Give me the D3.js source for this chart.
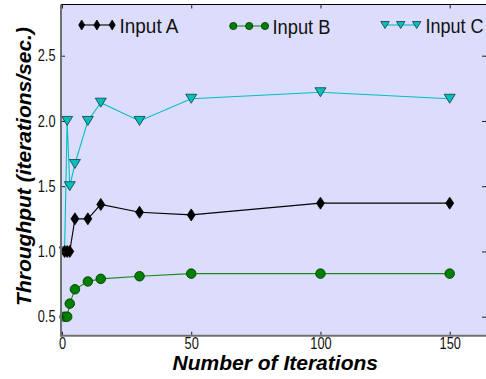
<!DOCTYPE html>
<html>
<head>
<meta charset="utf-8">
<script src="https://cdn.jsdelivr.net/npm/d3@7"></script>
<style>
  body { margin: 0; background: #fff; }
  svg { display: block; font-family: "Liberation Sans", Arial, sans-serif; }
</style>
</head>
<body>
<div id="chart"></div>
<script>
// Data
const iterations = [1, 2, 3, 5, 10, 15, 30, 50, 100, 150];
const inputA = [1.0, 1.0, 1.0, 1.25, 1.25, 1.36, 1.30, 1.28, 1.37, 1.37];
const inputB = [0.5, 0.5, 0.6, 0.71, 0.77, 0.79, 0.81, 0.83, 0.83, 0.83];
const inputC = [1.0, 2.0, 1.5, 1.67, 2.0, 2.14, 2.0, 2.17, 2.22, 2.17];
const seriesNames = ["Input A", "Input B", "Input C"];
const xTicks = [0, 50, 100, 150];
const yTicks = [0.5, 1.0, 1.5, 2.0, 2.5];

const width = 486, height = 379;
const plot = { left: 61, right: 488, top: 4.5, bottom: 335.7 };

const svg = d3.select("#chart").append("svg")
    .attr("width", width)
    .attr("height", height);

// Scales
const x = d3.scaleLinear().domain([0, 150]).range([62, 449.7]);
const y = d3.scaleLinear().domain([0.5, 2.5]).range([316.7, 55.7]);

// Background of the plot area
svg.append("rect")
    .attr("x", plot.left)
    .attr("y", plot.top)
    .attr("width", plot.right - plot.left)
    .attr("height", plot.bottom - plot.top)
    .attr("fill", "#dcdcfc");

// Marker shapes
function diamond(w, h) {
    return `M0,${-h / 2}L${w / 2},0L0,${h / 2}L${-w / 2},0Z`;
}
function triangleDown(w, h) {
    return `M${-w / 2},${-h / 2}L${w / 2},${-h / 2}L0,${h / 2}Z`;
}
function circle(r) {
    return d3.symbol(d3.symbolCircle, Math.PI * r * r)();
}

const series = [
    { name: seriesNames[0], values: inputA, line: "#000000", fill: "#000000", stroke: "#000000",
      shape: diamond(8, 12), legendShape: diamond(6, 10) },
    { name: seriesNames[1], values: inputB, line: "#1a8a1a", fill: "#008000", stroke: "#003300",
      shape: circle(4.8), legendShape: circle(3.6) },
    { name: seriesNames[2], values: inputC, line: "#00c0c0", fill: "#00bfbf", stroke: "#1a3a3a",
      shape: triangleDown(11, 9), legendShape: triangleDown(8.5, 7) }
];

const line = d3.line()
    .x((d, i) => x(iterations[i]))
    .y(d => y(d));

// Draw series, cyan first so black and green sit on top like the picture
const drawOrder = [2, 0, 1];
drawOrder.forEach(k => {
    const s = series[k];
    const g = svg.append("g");
    g.append("path")
        .attr("d", line(s.values))
        .attr("fill", "none")
        .attr("stroke", s.line)
        .attr("stroke-width", 1.1);
    g.selectAll("path.mark")
        .data(s.values)
        .enter()
        .append("path")
        .attr("class", "mark")
        .attr("d", s.shape)
        .attr("transform", (d, i) => `translate(${x(iterations[i])},${y(d)})`)
        .attr("fill", s.fill)
        .attr("stroke", s.stroke)
        .attr("stroke-width", 0.8);
});

// Axes: inward ticks, condensed labels
const bottomAxis = svg.append("g")
    .attr("transform", `translate(0,${plot.bottom})`)
    .call(d3.axisBottom(x).tickValues(xTicks).tickFormat(d3.format("d"))
        .tickSize(-4).tickSizeOuter(0).tickPadding(2));

const leftAxis = svg.append("g")
    .attr("transform", `translate(${plot.left},0)`)
    .call(d3.axisLeft(y).tickValues(yTicks).tickFormat(d3.format(".1f"))
        .tickSize(-4).tickSizeOuter(0).tickPadding(6));

[bottomAxis, leftAxis].forEach(a => {
    a.select(".domain").remove();
    a.selectAll(".tick line").attr("stroke", "#222");
    a.selectAll(".tick text")
        .attr("font-family", "'Liberation Sans', Arial, sans-serif")
        .attr("font-size", 16)
        .attr("fill", "#111");
});
bottomAxis.selectAll(".tick text").attr("transform", "scale(0.8,1)");
leftAxis.selectAll(".tick text")
    .attr("transform", "scale(0.8,1)")
    .attr("x", -5.5 / 0.8);

// Mirrored ticks on top and right
svg.append("g")
    .attr("transform", `translate(0,${plot.top})`)
    .call(d3.axisTop(x).tickValues(xTicks).tickFormat("").tickSize(-4).tickSizeOuter(0))
    .call(g => g.select(".domain").remove())
    .selectAll(".tick line").attr("stroke", "#222");

svg.append("g")
    .attr("transform", `translate(${width},0)`)
    .call(d3.axisRight(y).tickValues(yTicks).tickFormat("").tickSize(-4).tickSizeOuter(0))
    .call(g => g.select(".domain").remove())
    .selectAll(".tick line").attr("stroke", "#222");

// Spines
svg.append("line")
    .attr("x1", plot.left).attr("x2", plot.right)
    .attr("y1", plot.top).attr("y2", plot.top)
    .attr("stroke", "#000").attr("stroke-width", 1.2);
svg.append("line")
    .attr("x1", plot.left).attr("x2", plot.left)
    .attr("y1", plot.top).attr("y2", plot.bottom + 1)
    .attr("stroke", "#707070").attr("stroke-width", 2);
svg.append("line")
    .attr("x1", plot.left).attr("x2", plot.right)
    .attr("y1", plot.bottom).attr("y2", plot.bottom)
    .attr("stroke", "#707070").attr("stroke-width", 2);

// Legend
const legendItems = [
    { s: series[0], xs: [81.7, 96.9, 112.2], ty: 25, tx: 119.5 },
    { s: series[1], xs: [233.3, 249.2, 265], ty: 26, tx: 272.5 },
    { s: series[2], xs: [385, 400.7, 416.7], ty: 25, tx: 425.5 }
];
legendItems.forEach(it => {
    const g = svg.append("g").attr("class", "legend");
    g.append("line")
        .attr("x1", it.xs[0]).attr("x2", it.xs[2])
        .attr("y1", it.ty).attr("y2", it.ty)
        .attr("stroke", it.s.line)
        .attr("stroke-width", 1.1);
    g.selectAll("path")
        .data(it.xs)
        .enter()
        .append("path")
        .attr("d", it.s.legendShape)
        .attr("transform", d => `translate(${d},${it.ty})`)
        .attr("fill", it.s.fill)
        .attr("stroke", it.s.stroke)
        .attr("stroke-width", 0.8);
    g.append("text")
        .attr("x", it.tx)
        .attr("y", it.ty + 8)
        .attr("font-size", 20)
        .attr("textLength", it.s.name === "Input A" ? 59 : 58)
        .attr("lengthAdjust", "spacingAndGlyphs")
        .attr("fill", "#111")
        .text(it.s.name);
});

// Axis titles
svg.append("text")
    .attr("x", 275.3)
    .attr("y", 370)
    .attr("text-anchor", "middle")
    .attr("font-size", 21)
    .attr("font-weight", "bold")
    .attr("font-style", "italic")
    .attr("fill", "#000")
    .text("Number of Iterations");

svg.append("text")
    .attr("transform", "translate(31,166.5) rotate(-90)")
    .attr("text-anchor", "middle")
    .attr("font-size", 21)
    .attr("font-weight", "bold")
    .attr("font-style", "italic")
    .attr("fill", "#000")
    .text("Throughput (iterations/sec.)");
</script>
</body>
</html>
